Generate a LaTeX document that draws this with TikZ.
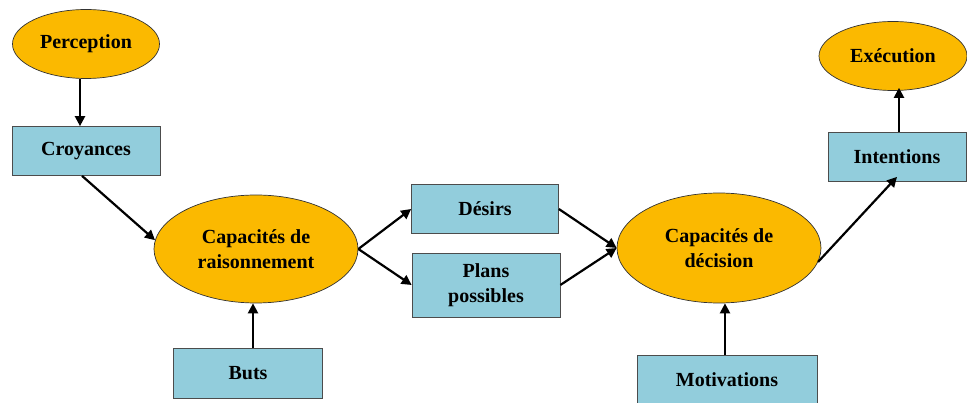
\documentclass[tikz,border=0pt]{standalone}
\usepackage{fontspec}
\setmainfont{Liberation Serif}
\usetikzlibrary{shapes.geometric,arrows.meta}
\definecolor{ovalfill}{HTML}{FBB900}
\definecolor{boxfill}{HTML}{92CDDC}
\tikzset{
  oval/.style={ellipse, draw=black!80, line width=0.7pt, fill=ovalfill, inner sep=0pt, align=center, font=\fontsize{20}{25}\selectfont\bfseries},
  rbox/.style={rectangle, draw=black!70, line width=0.7pt, fill=boxfill, inner sep=0pt, align=center, font=\fontsize{20}{25}\selectfont\bfseries},
  arr/.style={-{Triangle[length=10pt,width=10pt]}, line width=2.2pt, black}
}
\begin{document}
\begin{tikzpicture}[x=1pt,y=-1pt]
\useasboundingbox (0,0) rectangle (967,403);
\node[oval, minimum width=147pt, minimum height=69pt] (perc) at (86,44) {Perception};
\node[rbox, minimum width=148pt, minimum height=49pt] (croy) at (86,151) {Croyances};
\node[oval, minimum width=204pt, minimum height=108pt] (rais) at (256,249) {Capacités de\\raisonnement};
\node[rbox, minimum width=147pt, minimum height=49pt] (des) at (485,209) {Désirs};
\node[rbox, minimum width=148pt, minimum height=64pt] (plans) at (486,285) {Plans\\possibles};
\node[rbox, minimum width=149pt, minimum height=50pt] (buts) at (248,373) {Buts};
\node[oval, minimum width=204pt, minimum height=110pt] (dec) at (719,248) {Capacités de\\décision};
\node[oval, minimum width=148pt, minimum height=69pt] (exe) at (893,56) {Exécution};
\node[rbox, minimum width=138pt, minimum height=49pt] (int) at (897,157) {Intentions};
\node[rbox, minimum width=180pt, minimum height=50pt] (mot) at (727,380) {Motivations};
\draw[arr] ([xshift=-6pt]perc.south) -- ([xshift=-6pt]croy.north);
\draw[arr] ([xshift=-4pt]croy.south) -- (rais.175);
\draw[arr] (rais.east) -- (des.west);
\draw[arr] (rais.east) -- (plans.west);
\draw[arr] (des.east) -- (dec.180);
\draw[arr] (plans.east) -- (dec.180);
\draw[arr] (dec.-8) -- ([yshift=5pt]int.south);
\draw[arr] ([xshift=2pt]int.north) -- ([xshift=6pt,yshift=3pt]exe.south);
\draw[arr] ([xshift=5pt]buts.north) -- ([xshift=-3pt]rais.south);
\draw[arr] ([xshift=-2pt]mot.north) -- ([xshift=6pt]dec.south);
\end{tikzpicture}
\end{document}
